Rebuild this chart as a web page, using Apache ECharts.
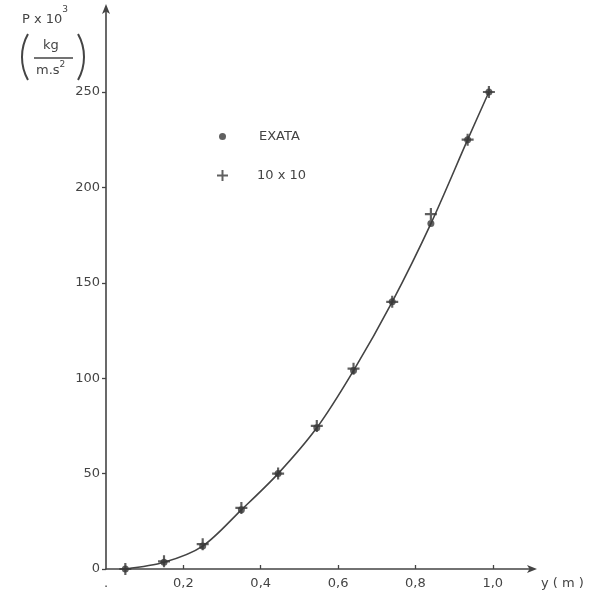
<!DOCTYPE html>
<html>
<head>
<meta charset="utf-8">
<script src="https://cdn.jsdelivr.net/npm/echarts@6/dist/echarts.min.js"></script>
<style>
  html, body { margin: 0; padding: 0; background: #fff; }
  #main { width: 591px; height: 597px; }
</style>
</head>
<body>
<div id="main"></div>
<script>
// valores
const yPos = [0.05, 0.15, 0.25, 0.35, 0.445, 0.545, 0.64, 0.74, 0.84, 0.935, 0.99];
const exata = [0, 3.5, 12, 31, 50, 74, 104, 140, 181, 225, 250];
const malha10 = [0, 4, 13, 32, 50, 75, 105, 140, 186, 225, 250];
const xTicks = [0, 0.2, 0.4, 0.6, 0.8, 1.0];
const xTickLabels = ['.', '0,2', '0,4', '0,6', '0,8', '1,0'];
const yTicks = [0, 50, 100, 150, 200, 250];

const ink = '#444';
const font = 'DejaVu Sans';
const plus = 'path://M0,4.1H10V5.9H0Z M4.1,0H5.9V10H4.1Z';

const myChart = echarts.init(document.getElementById('main'));

const pair = (xs, ys) => xs.map((x, i) => [x, ys[i]]);

const option = {
  backgroundColor: '#fff',
  animation: false,
  textStyle: { fontFamily: font, color: ink },
  grid: { left: 106, right: 58, top: 8, bottom: 28, containLabel: false },
  xAxis: {
    type: 'value',
    min: 0,
    max: 1.104,
    name: 'y ( m )',
    nameLocation: 'end',
    nameGap: 8,
    nameTextStyle: { color: ink, fontSize: 13, fontFamily: font, verticalAlign: 'top', padding: [8, 0, 0, 0] },
    axisLine: { lineStyle: { color: ink, width: 1.6 }, symbol: ['none', 'arrow'], symbolSize: [6, 10], symbolOffset: [0, 4] },
    axisTick: { show: true, inside: true, length: 4, lineStyle: { color: ink, width: 1.3 }, customValues: xTicks.slice(1) },
    axisLabel: {
      color: ink, fontSize: 13, fontFamily: font, margin: 8,
      customValues: xTicks,
      formatter: v => xTickLabels[xTicks.findIndex(t => Math.abs(t - v) < 1e-6)] || ''
    },
    splitLine: { show: false }
  },
  yAxis: {
    type: 'value',
    min: 0,
    max: 294,
    axisLine: { show: true, lineStyle: { color: ink, width: 1.6 }, symbol: ['none', 'arrow'], symbolSize: [6, 10], symbolOffset: [0, 4] },
    axisTick: { show: true, length: 4, lineStyle: { color: ink, width: 1.3 }, customValues: yTicks },
    axisLabel: { color: ink, fontSize: 13, fontFamily: font, margin: 6, customValues: yTicks },
    splitLine: { show: false }
  },
  legend: [
    {
      data: [{ name: 'EXATA', icon: 'circle' }],
      left: 214, top: 125, itemWidth: 7, itemHeight: 7, itemGap: 0,
      textStyle: { color: ink, fontSize: 13, fontFamily: font, padding: [0, 0, 0, 28] }
    },
    {
      data: [{ name: '10 x 10', icon: plus }],
      left: 212, top: 164, itemWidth: 11, itemHeight: 11, itemGap: 0,
      textStyle: { color: ink, fontSize: 13, fontFamily: font, padding: [0, 0, 0, 24] }
    }
  ],
  series: [
    {
      name: 'curva',
      type: 'line',
      data: pair(yPos, exata),
      smooth: 0.3,
      showSymbol: false,
      lineStyle: { color: ink, width: 1.6 },
      z: 1
    },
    {
      name: 'EXATA',
      type: 'scatter',
      data: pair(yPos, exata),
      symbol: 'circle',
      symbolSize: 7,
      itemStyle: { color: '#383838' },
      z: 3
    },
    {
      name: '10 x 10',
      type: 'scatter',
      data: pair(yPos, malha10),
      symbol: plus,
      symbolSize: 12,
      itemStyle: { color: '#383838' },
      z: 3
    }
  ],
  graphic: [
    {
      type: 'text', left: 22, top: 5,
      style: {
        text: '{a|P x 10}{s|3}',
        rich: {
          a: { fontSize: 13, fontFamily: font, fill: ink, verticalAlign: 'bottom', padding: [8, 0, 0, 0] },
          s: { fontSize: 9, fontFamily: font, fill: ink, verticalAlign: 'top' }
        }
      }
    },
    {
      type: 'arc',
      shape: { cx: 69, cy: 57, r: 47, startAngle: Math.PI - 0.51, endAngle: Math.PI + 0.51 },
      style: { stroke: ink, lineWidth: 2, fill: null }
    },
    {
      type: 'arc',
      shape: { cx: 37, cy: 57, r: 47, startAngle: -0.51, endAngle: 0.51 },
      style: { stroke: ink, lineWidth: 2, fill: null }
    },
    { type: 'text', left: 43, top: 39, style: { text: 'kg', fontSize: 13, fontFamily: font, fill: ink } },
    { type: 'line', shape: { x1: 34, y1: 58, x2: 73, y2: 58 }, style: { stroke: ink, lineWidth: 1.4 } },
    {
      type: 'text', left: 36, top: 60,
      style: {
        text: '{a|m.s}{s|2}',
        rich: {
          a: { fontSize: 13, fontFamily: font, fill: ink, padding: [4, 0, 0, 0] },
          s: { fontSize: 9, fontFamily: font, fill: ink, verticalAlign: 'top' }
        }
      }
    }
  ]
};

myChart.setOption(option);
</script>
</body>
</html>
